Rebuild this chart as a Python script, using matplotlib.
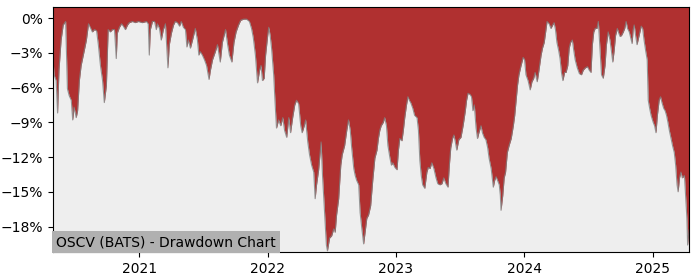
import matplotlib
matplotlib.use("Agg")
import matplotlib.pyplot as plt
import matplotlib.dates as mdates
from matplotlib.ticker import MultipleLocator, FuncFormatter
import pandas as pd

### Drawdown values (percent) ###
dates = [
    "2020-04-30", "2020-05-03", "2020-05-09", "2020-05-13", "2020-05-17", "2020-05-23", "2020-05-29",
    "2020-06-05", "2020-06-10", "2020-06-15", "2020-06-21", "2020-06-25", "2020-06-29", "2020-07-05",
    "2020-07-09", "2020-07-14", "2020-07-19", "2020-07-28", "2020-08-03", "2020-08-09", "2020-08-14",
    "2020-08-20", "2020-08-26", "2020-09-01", "2020-09-06", "2020-09-12", "2020-09-18", "2020-09-23",
    "2020-09-29", "2020-10-02", "2020-10-04", "2020-10-10", "2020-10-16", "2020-10-22", "2020-10-27",
    "2020-10-30", "2020-11-05", "2020-11-11", "2020-11-16", "2020-11-22", "2020-11-28", "2020-12-03",
    "2020-12-12", "2020-12-20", "2020-12-29",
    "2021-01-09", "2021-01-21", "2021-01-26", "2021-01-29", "2021-02-01", "2021-02-07", "2021-02-13",
    "2021-02-18", "2021-02-21", "2021-02-27", "2021-03-04", "2021-03-10", "2021-03-16", "2021-03-23",
    "2021-03-27", "2021-04-02", "2021-04-08", "2021-04-13", "2021-04-19", "2021-04-25", "2021-04-30",
    "2021-05-06", "2021-05-12", "2021-05-16", "2021-05-20", "2021-05-26", "2021-06-01", "2021-06-09",
    "2021-06-15", "2021-06-19", "2021-06-23", "2021-06-29", "2021-07-05", "2021-07-11", "2021-07-18",
    "2021-07-22", "2021-07-28", "2021-08-05", "2021-08-11", "2021-08-19", "2021-08-25", "2021-09-03",
    "2021-09-09", "2021-09-14", "2021-09-21", "2021-09-27", "2021-10-03", "2021-10-10", "2021-10-16",
    "2021-10-24", "2021-11-02", "2021-11-10", "2021-11-16", "2021-11-21", "2021-11-27", "2021-12-03",
    "2021-12-09", "2021-12-13", "2021-12-17", "2021-12-22", "2021-12-26",
    "2022-01-01", "2022-01-04", "2022-01-08", "2022-01-12", "2022-01-18", "2022-01-22", "2022-01-26",
    "2022-02-01", "2022-02-07", "2022-02-13", "2022-02-18", "2022-02-24", "2022-03-02", "2022-03-07",
    "2022-03-13", "2022-03-19", "2022-03-24", "2022-03-30", "2022-04-05", "2022-04-09", "2022-04-15",
    "2022-04-19", "2022-04-25", "2022-04-30", "2022-05-06", "2022-05-12", "2022-05-16", "2022-05-20",
    "2022-05-26", "2022-06-02", "2022-06-06", "2022-06-12", "2022-06-17", "2022-06-20", "2022-06-26",
    "2022-07-02", "2022-07-08", "2022-07-12", "2022-07-16", "2022-07-22", "2022-07-28", "2022-08-01",
    "2022-08-08", "2022-08-14", "2022-08-19", "2022-08-24", "2022-08-28", "2022-09-03", "2022-09-07",
    "2022-09-11", "2022-09-17", "2022-09-21", "2022-09-26", "2022-10-01", "2022-10-06", "2022-10-10",
    "2022-10-15", "2022-10-21", "2022-10-27", "2022-11-02", "2022-11-08", "2022-11-12", "2022-11-16",
    "2022-11-20", "2022-11-26", "2022-11-30", "2022-12-05", "2022-12-09", "2022-12-15", "2022-12-19",
    "2022-12-23", "2022-12-29",
    "2023-01-04", "2023-01-08", "2023-01-12", "2023-01-18", "2023-01-22", "2023-01-26", "2023-01-31",
    "2023-02-04", "2023-02-08", "2023-02-12", "2023-02-18", "2023-02-23", "2023-03-02", "2023-03-06",
    "2023-03-10", "2023-03-14", "2023-03-18", "2023-03-24", "2023-03-30", "2023-04-03", "2023-04-08",
    "2023-04-13", "2023-04-19", "2023-04-25", "2023-04-30", "2023-05-06", "2023-05-12", "2023-05-17",
    "2023-05-23", "2023-05-29", "2023-06-02", "2023-06-06", "2023-06-11", "2023-06-15", "2023-06-19",
    "2023-06-23", "2023-06-29", "2023-07-05", "2023-07-11", "2023-07-17", "2023-07-21", "2023-07-25",
    "2023-07-31", "2023-08-04", "2023-08-08", "2023-08-12", "2023-08-17", "2023-08-21", "2023-08-25",
    "2023-08-31", "2023-09-04", "2023-09-09", "2023-09-14", "2023-09-19", "2023-09-23", "2023-09-29",
    "2023-10-05", "2023-10-09", "2023-10-13", "2023-10-17", "2023-10-22", "2023-10-25", "2023-10-27",
    "2023-11-01", "2023-11-05", "2023-11-09", "2023-11-14", "2023-11-19", "2023-11-25", "2023-12-01",
    "2023-12-05", "2023-12-09", "2023-12-13", "2023-12-17", "2023-12-23", "2023-12-29",
    "2024-01-02", "2024-01-06", "2024-01-12", "2024-01-18", "2024-01-23", "2024-01-28", "2024-02-01",
    "2024-02-07", "2024-02-12", "2024-02-18", "2024-02-22", "2024-02-27", "2024-03-02", "2024-03-06",
    "2024-03-12", "2024-03-17", "2024-03-22", "2024-03-26", "2024-03-30", "2024-04-03", "2024-04-08",
    "2024-04-12", "2024-04-16", "2024-04-20", "2024-04-25", "2024-04-29", "2024-05-04", "2024-05-08",
    "2024-05-12", "2024-05-17", "2024-05-21", "2024-05-25", "2024-05-31", "2024-06-06", "2024-06-12",
    "2024-06-17", "2024-06-23", "2024-06-29", "2024-07-04", "2024-07-09", "2024-07-13", "2024-07-17",
    "2024-07-21", "2024-07-26", "2024-07-30", "2024-08-03", "2024-08-08", "2024-08-13", "2024-08-18",
    "2024-08-22", "2024-08-27", "2024-09-01", "2024-09-05", "2024-09-09", "2024-09-13", "2024-09-17",
    "2024-09-22", "2024-09-26", "2024-09-30", "2024-10-04", "2024-10-09", "2024-10-13", "2024-10-17",
    "2024-10-21", "2024-10-26", "2024-10-30", "2024-11-03", "2024-11-06", "2024-11-09", "2024-11-13",
    "2024-11-17", "2024-11-23", "2024-11-29", "2024-12-03", "2024-12-07", "2024-12-12", "2024-12-16",
    "2024-12-19", "2024-12-23", "2024-12-27",
    "2025-01-02", "2025-01-06", "2025-01-10", "2025-01-14", "2025-01-19", "2025-01-23", "2025-01-27",
    "2025-02-01", "2025-02-05", "2025-02-09", "2025-02-13", "2025-02-17", "2025-02-22", "2025-02-26",
    "2025-03-03", "2025-03-07", "2025-03-11", "2025-03-14", "2025-03-18", "2025-03-22", "2025-03-26",
    "2025-04-01", "2025-04-05", "2025-04-08", "2025-04-10", "2025-04-14",
]

drawdown = [
    -3.5, -4.9, -5.4, -8.2, -4.5, -1.9, -0.6,
    -0.3, -6.1, -6.7, -7.1, -8.8, -7.7, -8.6,
    -8.0, -5.4, -4.1, -2.8, -1.9, -0.5, -0.8,
    -1.2, -1.0, -1.1, -2.3, -4.1, -5.4, -7.3,
    -5.8, -2.8, -1.0, -1.2, -1.0, -1.0, -3.5,
    -1.3, -0.8, -0.5, -0.7, -1.0, -0.6, -0.4,
    -0.3, -0.4, -0.3,
    -0.4, -0.3, -0.5, -3.2, -1.0, -0.3, -0.3,
    -1.0, -0.5, -0.9, -1.9, -1.0, -0.5, -4.3,
    -2.3, -1.3, -0.6, -0.3, -0.4, -0.7, -0.3,
    -0.8, -1.0, -2.5, -1.9, -2.6, -1.9, -0.9,
    -1.9, -3.2, -2.9, -3.2, -3.6, -4.1, -5.3,
    -4.5, -3.6, -2.9, -2.3, -3.8, -2.1, -1.0,
    -2.3, -3.2, -3.8, -2.1, -1.2, -0.6, -0.2,
    -0.1, -0.1, -0.3, -0.9, -1.7, -3.2, -5.6,
    -4.5, -4.1, -5.4, -5.2, -3.2,
    -1.5, -0.8, -1.5, -2.6, -4.9, -7.3, -9.5,
    -8.8, -9.3, -8.6, -9.7, -10.3, -8.6, -9.9,
    -8.6, -7.5, -7.1, -7.4, -9.3, -9.9, -9.3,
    -8.8, -10.7, -11.8, -12.7, -13.3, -15.6, -14.4,
    -13.1, -10.7, -13.6, -16.8, -19.6, -20.1, -19.0,
    -18.8, -18.2, -18.5, -17.0, -15.6, -12.7, -11.8,
    -11.0, -9.7, -8.8, -9.7, -11.2, -13.0, -13.6,
    -14.0, -14.4, -16.8, -18.2, -19.5, -18.3, -17.3,
    -17.0, -16.2, -14.0, -12.1, -11.4, -10.4, -9.7,
    -9.3, -9.0, -8.6, -9.3, -11.0, -12.1, -12.7,
    -12.5, -12.9,
    -13.1, -11.4, -10.4, -10.6, -9.7, -8.6, -7.5,
    -6.8, -7.1, -7.3, -7.8, -8.4, -8.6, -9.7,
    -12.3, -13.6, -14.4, -14.7, -13.3, -12.9, -13.0,
    -12.5, -13.0, -13.8, -14.3, -14.4, -14.3, -13.8,
    -14.3, -14.6, -12.7, -11.2, -10.4, -10.1, -10.7,
    -11.4, -10.5, -10.3, -9.3, -8.1, -7.1, -6.5,
    -6.6, -6.8, -8.0, -7.5, -9.5, -10.4, -9.9,
    -9.3, -9.9, -10.3, -10.5, -11.2, -12.1, -13.0,
    -14.6, -14.0, -13.7, -14.0, -14.4, -15.3, -16.6,
    -15.3, -13.8, -13.3, -11.6, -11.0, -10.4, -9.3,
    -8.4, -7.1, -5.8, -4.9, -4.1, -3.4,
    -3.6, -4.9, -5.4, -6.2, -5.5, -5.2, -4.7,
    -5.5, -4.5, -3.2, -2.6, -2.1, -1.2, -0.3,
    -0.5, -0.9, -0.6, -0.4, -1.0, -2.1, -2.8,
    -3.5, -4.7, -5.4, -4.7, -4.7, -4.1, -2.6,
    -2.1, -1.9, -2.8, -3.6, -4.3, -4.8, -4.9,
    -4.5, -4.3, -4.2, -4.5, -4.7, -2.3, -1.2,
    -0.9, -0.9, -0.3, -2.3, -4.9, -5.2, -4.1,
    -2.3, -1.2, -1.9, -2.8, -3.8, -2.8, -1.5,
    -0.9, -1.3, -1.6, -1.5, -1.2, -0.9, -0.3,
    -0.9, -1.2, -1.7, -2.2, -1.0, -0.6, -1.5,
    -2.3, -1.5, -0.7, -0.9, -1.9, -2.9, -3.6,
    -7.1, -7.8, -8.4,
    -9.0, -9.3, -9.9, -8.4, -7.1, -6.8, -7.3,
    -7.8, -8.0, -8.4, -9.0, -9.7, -10.4, -11.0,
    -11.6, -12.7, -14.4, -15.0, -13.8, -13.3, -13.8,
    -13.6, -15.7, -17.3, -19.6, -18.3,
]

title = "OSCV (BATS) - Drawdown Chart"

x = pd.to_datetime(dates)
y_top = 0.95

fig = plt.figure(figsize=(7, 2.8), dpi=100)
ax = fig.add_axes([53 / 700, 1 - 252 / 280, 636 / 700, 245 / 280])
ax.set_facecolor("#EEEEEE")

# red area runs from the drawdown line up to the top of the axes
ax.fill_between(x, drawdown, y_top + 1, color="#B03030", linewidth=0)
ax.plot(x, drawdown, color="gray", linewidth=0.8, alpha=0.8)

ax.set_xlim(x[0], x[-1])
ax.set_ylim(-20.2, y_top)
ax.yaxis.set_major_locator(MultipleLocator(3))
ax.yaxis.set_major_formatter(FuncFormatter(lambda v, p: f"{int(round(v))}%".replace("-", "\u2212")))
ax.xaxis.set_major_locator(mdates.YearLocator())
ax.xaxis.set_major_formatter(mdates.DateFormatter("%Y"))
ax.tick_params(labelsize=10)

ax.text(0.0047, 0.012, title, transform=ax.transAxes, fontsize=10,
        ha="left", va="bottom",
        bbox=dict(boxstyle="square,pad=0.3", facecolor="#B0B0B0", edgecolor="none"))

fig.savefig("out.png")
